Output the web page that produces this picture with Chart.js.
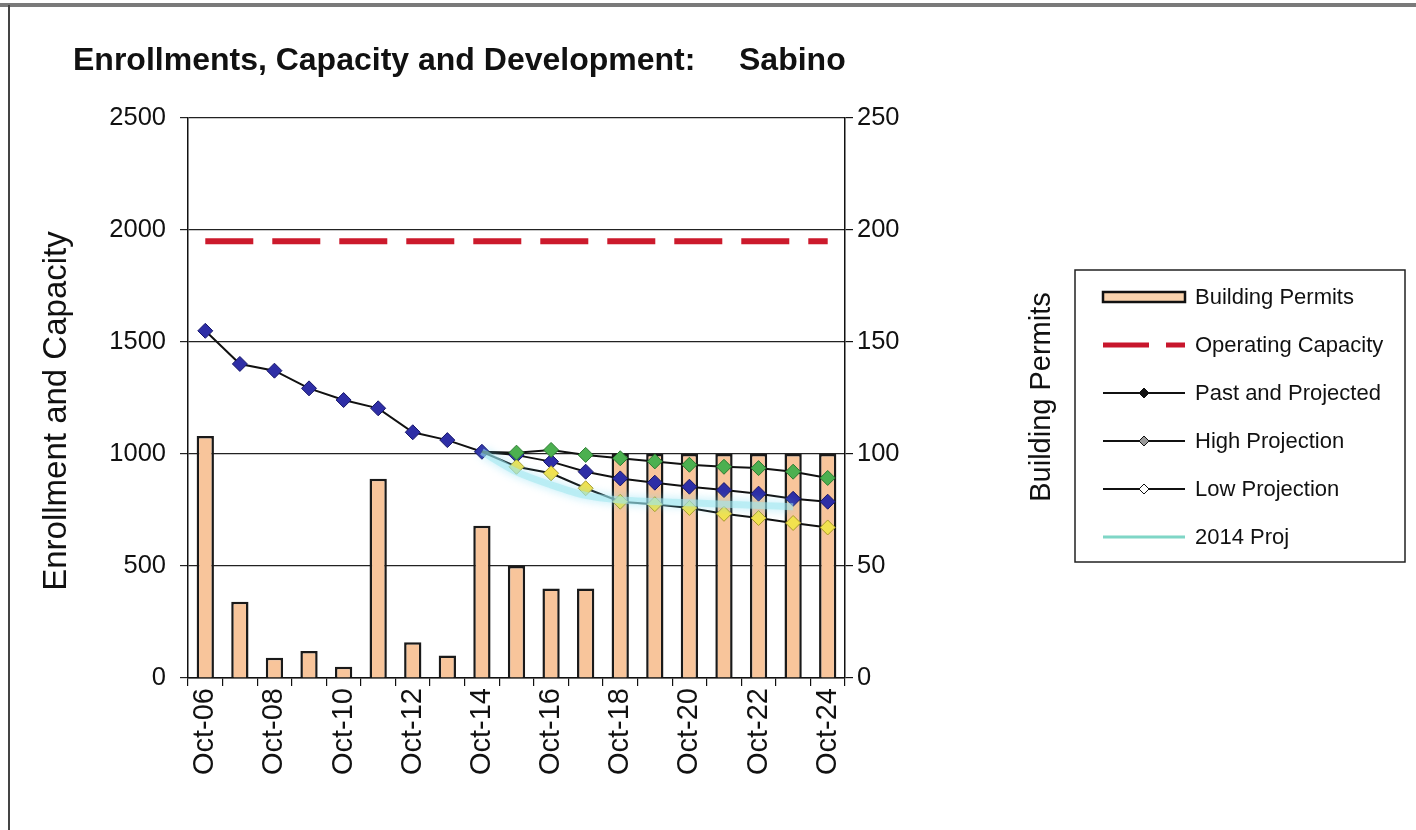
<!DOCTYPE html>
<html>
<head>
<meta charset="utf-8">
<title>Enrollments, Capacity and Development: Sabino</title>
<script src="https://cdn.jsdelivr.net/npm/chart.js@4.4.1/dist/chart.umd.min.js"></script>
<style>
  html, body { margin: 0; padding: 0; background: #fff; }
  #wrap { position: relative; width: 1416px; height: 830px; }
  canvas { display: block; }
</style>
</head>
<body>
<div id="wrap"><canvas id="c" width="1416" height="830"></canvas></div>
<script>
// School years (October counts)
const years = ['Oct-06','Oct-07','Oct-08','Oct-09','Oct-10','Oct-11','Oct-12','Oct-13','Oct-14','Oct-15',
               'Oct-16','Oct-17','Oct-18','Oct-19','Oct-20','Oct-21','Oct-22','Oct-23','Oct-24'];

// Building permits (right axis)
const buildingPermits = [108, 34, 9, 12, 5, 89, 16, 10, 68, 50, 40, 40, 100, 100, 100, 100, 100, 100, 100];

// Operating capacity (left axis)
const operatingCapacity = [1950, 1950, 1950, 1950, 1950, 1950, 1950, 1950, 1950, 1950,
                           1950, 1950, 1950, 1950, 1950, 1950, 1950, 1950, 1950];

// Enrollment: past and projected
const pastAndProjected = [1550, 1402, 1372, 1293, 1241, 1204, 1097, 1062, 1010, 995,
                          966, 921, 891, 872, 854, 839, 823, 800, 787];

// High / low projections, branching at Oct-14
const highProjection = [null, null, null, null, null, null, null, null, 1010, 1006,
                        1018, 996, 981, 967, 952, 943, 937, 921, 893];
const lowProjection  = [null, null, null, null, null, null, null, null, 1010, 943,
                        914, 847, 787, 776, 759, 733, 714, 692, 672];

// Projection made in 2014
const proj2014 = [null, null, null, null, null, null, null, null, 1010, 920,
                  862, 815, 795, 788, 782, 776, 770, 765, null];

const leftTicks = [0, 500, 1000, 1500, 2000, 2500];
const rightTicks = [0, 50, 100, 150, 200, 250];

const FONT = '"Liberation Sans", Arial, Helvetica, sans-serif';
const BRANCH = 8; // index of Oct-14, where projections begin

// Title, axis titles, legend and frame
const decorations = {
  id: 'decorations',
  beforeDatasetDraw(chart, args) {
    if (chart.data.datasets[args.index].label === '2014 Proj') {
      const ctx = chart.ctx;
      ctx.save();
      ctx.shadowColor = 'rgba(110, 215, 240, 0.9)';
      ctx.shadowBlur = 10;
    }
  },
  afterDatasetDraw(chart, args) {
    if (chart.data.datasets[args.index].label === '2014 Proj') {
      chart.ctx.restore();
    }
  },
  afterDraw(chart) {
    const ctx = chart.ctx;
    ctx.save();

    // outer frame
    ctx.fillStyle = '#7a7a7a';
    ctx.fillRect(0, 3, 1416, 4);
    ctx.fillStyle = '#444';
    ctx.fillRect(8, 5, 2, 825);

    // chart title
    ctx.fillStyle = '#111';
    ctx.textBaseline = 'alphabetic';
    ctx.textAlign = 'left';
    ctx.font = 'bold 32px ' + FONT;
    ctx.fillText('Enrollments, Capacity and Development:', 73, 70);
    ctx.fillText('Sabino', 739, 70);

    // axis titles (reading bottom to top)
    ctx.font = '33px ' + FONT;
    ctx.save();
    ctx.translate(66, 411);
    ctx.rotate(-Math.PI / 2);
    ctx.textAlign = 'center';
    ctx.fillText('Enrollment and Capacity', 0, 0);
    ctx.restore();

    ctx.font = '29px ' + FONT;
    ctx.save();
    ctx.translate(1050, 397);
    ctx.rotate(-Math.PI / 2);
    ctx.textAlign = 'center';
    ctx.fillText('Building Permits', 0, 0);
    ctx.restore();

    // legend
    const lx = 1075, ly = 270, lw = 330, lh = 292;
    ctx.strokeStyle = '#222';
    ctx.lineWidth = 1.5;
    ctx.strokeRect(lx, ly, lw, lh);

    const sx0 = 1103, sx1 = 1185, tx = 1195;
    const rows = [297, 345, 393, 441, 489, 537];
    const names = ['Building Permits', 'Operating Capacity', 'Past and Projected',
                   'High Projection', 'Low Projection', '2014 Proj'];

    // Building Permits swatch
    ctx.fillStyle = '#f9d2ad';
    ctx.fillRect(sx0, rows[0] - 5, sx1 - sx0, 10);
    ctx.strokeStyle = '#111';
    ctx.lineWidth = 2.5;
    ctx.strokeRect(sx0, rows[0] - 5, sx1 - sx0, 10);

    // Operating Capacity swatch
    ctx.strokeStyle = '#c8162c';
    ctx.lineWidth = 5;
    ctx.beginPath();
    ctx.moveTo(sx0, rows[1]); ctx.lineTo(sx0 + 46, rows[1]);
    ctx.moveTo(sx0 + 63, rows[1]); ctx.lineTo(sx1, rows[1]);
    ctx.stroke();

    // line + diamond swatches
    const diamond = (cx, cy, r, fill) => {
      ctx.beginPath();
      ctx.moveTo(cx, cy - r); ctx.lineTo(cx + r, cy); ctx.lineTo(cx, cy + r); ctx.lineTo(cx - r, cy);
      ctx.closePath();
      ctx.fillStyle = fill; ctx.fill();
      ctx.strokeStyle = '#111'; ctx.lineWidth = 1; ctx.stroke();
    };
    const fills = ['#111', '#999', '#fff'];
    for (let k = 0; k < 3; k++) {
      const y = rows[2 + k];
      ctx.strokeStyle = '#111';
      ctx.lineWidth = 2;
      ctx.beginPath(); ctx.moveTo(sx0, y); ctx.lineTo(sx1, y); ctx.stroke();
      diamond((sx0 + sx1) / 2, y, 5, fills[k]);
    }

    // 2014 Proj swatch
    ctx.strokeStyle = '#7fd6c6';
    ctx.lineWidth = 3;
    ctx.beginPath(); ctx.moveTo(sx0, rows[5]); ctx.lineTo(sx1, rows[5]); ctx.stroke();

    ctx.fillStyle = '#111';
    ctx.font = '22px ' + FONT;
    ctx.textAlign = 'left';
    ctx.textBaseline = 'middle';
    names.forEach((n, i) => ctx.fillText(n, tx, rows[i] + 1));

    ctx.restore();
  }
};

const marker = (fill, edge) => ({
  pointStyle: 'rectRot',
  pointBackgroundColor: fill,
  pointBorderColor: edge,
  pointBorderWidth: 1,
  pointHoverRadius: 7.5,
});

new Chart(document.getElementById('c'), {
  type: 'bar',
  data: {
    labels: years,
    datasets: [
      {
        type: 'bar',
        label: 'Building Permits',
        data: buildingPermits,
        yAxisID: 'y1',
        backgroundColor: '#f8c59b',
        borderColor: '#1a1a1a',
        borderWidth: 2.5,
        barPercentage: 0.5,
        categoryPercentage: 1.0,
        order: 6
      },
      {
        type: 'line',
        label: 'Operating Capacity',
        data: operatingCapacity,
        yAxisID: 'y',
        borderColor: '#cc1a2c',
        borderWidth: 6,
        borderDash: [48, 19],
        pointRadius: 0,
        tension: 0,
        order: 5
      },
      {
        type: 'line',
        label: 'Past and Projected',
        data: pastAndProjected,
        yAxisID: 'y',
        borderColor: '#111',
        borderWidth: 2,
        pointRadius: 7.5,
        ...marker('#2e2ea6', '#16166a'),
        tension: 0,
        order: 4
      },
      {
        type: 'line',
        label: 'Low Projection',
        data: lowProjection,
        yAxisID: 'y',
        borderColor: '#111',
        borderWidth: 2,
        pointRadius: ctx => ctx.dataIndex === BRANCH ? 0 : 7.5,
        ...marker('#f2e24e', '#a89a2a'),
        tension: 0,
        order: 3
      },
      {
        type: 'line',
        label: 'High Projection',
        data: highProjection,
        yAxisID: 'y',
        borderColor: '#111',
        borderWidth: 2,
        pointRadius: ctx => ctx.dataIndex === BRANCH ? 0 : 7.5,
        ...marker('#4cb050', '#2a7a30'),
        tension: 0,
        order: 2
      },
      {
        type: 'line',
        label: '2014 Proj',
        data: proj2014,
        yAxisID: 'y',
        borderColor: 'rgba(160, 232, 238, 0.55)',
        borderWidth: 7,
        pointRadius: 0,
        tension: 0.3,
        order: 1
      }
    ]
  },
  options: {
    responsive: false,
    animation: false,
    events: [],
    layout: { padding: { left: 0, right: 471, top: 118, bottom: 0 } },
    plugins: {
      legend: { display: false },
      title: { display: false },
      tooltip: { enabled: false }
    },
    scales: {
      x: {
        offset: true,
        afterFit: s => { s.height = 152; },
        grid: { offset: true, drawOnChartArea: false, drawTicks: true, tickLength: 8, color: '#111', lineWidth: 1.2 },
        border: { display: true, color: '#111', width: 1.5 },
        ticks: {
          autoSkip: false,
          minRotation: 90,
          maxRotation: 90,
          padding: 2,
          color: '#111',
          font: { family: FONT, size: 29 },
          callback(v, i) { return i % 2 === 0 ? years[i] : ''; }
        }
      },
      y: {
        position: 'left',
        min: leftTicks[0],
        max: leftTicks[leftTicks.length - 1],
        afterFit: s => { s.width = 188; },
        afterBuildTicks: s => { s.ticks = leftTicks.map(v => ({ value: v })); },
        grid: { color: '#222', lineWidth: 1.2, tickLength: 8, drawTicks: true },
        border: { display: true, color: '#111', width: 1.5 },
        ticks: { padding: 14, color: '#111', font: { family: FONT, size: 25.5 }, callback: v => String(v) }
      },
      y1: {
        position: 'right',
        min: rightTicks[0],
        max: rightTicks[rightTicks.length - 1],
        afterFit: s => { s.width = 100; },
        afterBuildTicks: s => { s.ticks = rightTicks.map(v => ({ value: v })); },
        grid: { drawOnChartArea: false, color: '#111', lineWidth: 1.2, tickLength: 8 },
        border: { display: true, color: '#111', width: 1.5 },
        ticks: { padding: 4, color: '#111', font: { family: FONT, size: 25.5 }, callback: v => String(v) }
      }
    }
  },
  plugins: [decorations]
});
</script>
</body>
</html>
